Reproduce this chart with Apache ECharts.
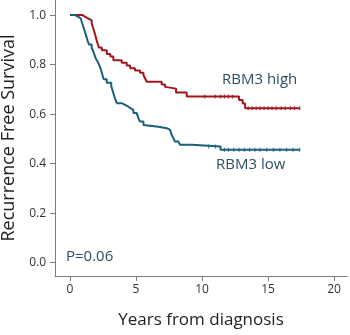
<!DOCTYPE html>
<html>
<head>
<meta charset="utf-8">
<script src="https://cdn.jsdelivr.net/npm/echarts@6/dist/echarts.min.js"></script>
<style>
  html, body { margin: 0; padding: 0; background: #fff; }
  #chart { width: 350px; height: 335px; }
</style>
</head>
<body>
<div id="chart"></div>
<script>
// Kaplan-Meier step curves: [years, survival] at each drop
const highCurve = [
  [0, 1.0], [0.95, 0.993], [1.15, 0.986], [1.4, 0.979], [1.64, 0.967], [1.72, 0.953],
  [1.8, 0.939], [1.88, 0.925], [1.95, 0.911], [2.02, 0.897], [2.1, 0.883], [2.18, 0.869],
  [2.4, 0.858], [2.78, 0.843], [3.05, 0.833], [3.28, 0.818], [3.91, 0.808], [4.29, 0.796],
  [4.55, 0.785], [4.92, 0.776], [5.3, 0.767], [5.56, 0.758], [5.68, 0.745], [5.81, 0.731],
  [6.94, 0.720], [7.2, 0.710], [7.3, 0.703], [8.03, 0.687], [8.84, 0.671], [12.8, 0.657],
  [13.08, 0.643], [13.26, 0.624], [17.4, 0.624]
];
const lowCurve = [
  [0, 1.0], [0.38, 0.993], [0.63, 0.986], [0.81, 0.979], [0.93, 0.965], [1.02, 0.951],
  [1.1, 0.937], [1.18, 0.923], [1.26, 0.909], [1.34, 0.895], [1.44, 0.881], [1.64, 0.867],
  [1.77, 0.853], [1.85, 0.839], [1.95, 0.825], [2.1, 0.811], [2.22, 0.797], [2.32, 0.783],
  [2.4, 0.769], [2.47, 0.755], [2.55, 0.741], [2.78, 0.727], [3.12, 0.713], [3.2, 0.699],
  [3.28, 0.685], [3.36, 0.671], [3.45, 0.657], [3.55, 0.644], [3.91, 0.637], [4.17, 0.630],
  [4.42, 0.623], [4.6, 0.617], [4.8, 0.604], [5.05, 0.597], [5.18, 0.583], [5.3, 0.570],
  [5.56, 0.556], [5.68, 0.549], [6.7, 0.543], [7.32, 0.536], [7.58, 0.529], [7.7, 0.516],
  [7.83, 0.503], [7.95, 0.489], [8.2, 0.482], [8.33, 0.476], [9.22, 0.469], [11.4, 0.456],
  [17.4, 0.456]
];
// Censored observations: [years, survival]
const highCensored = [
  [10.2, 0.671], [11.0, 0.671], [11.4, 0.671], [11.7, 0.671], [12.0, 0.671], [12.3, 0.671],
  [13.5, 0.624], [13.8, 0.624], [14.1, 0.624], [14.4, 0.624], [14.7, 0.624], [15.0, 0.624],
  [15.3, 0.624], [15.6, 0.624], [16.0, 0.624], [16.3, 0.624], [16.7, 0.624], [17.0, 0.624],
  [17.4, 0.624]
];
const lowCensored = [
  [10.5, 0.469], [11.0, 0.469], [11.7, 0.456], [12.0, 0.456], [12.4, 0.456], [12.8, 0.456],
  [13.2, 0.456], [13.6, 0.456], [14.0, 0.456], [14.4, 0.456], [14.9, 0.456], [15.4, 0.456],
  [15.9, 0.456], [16.4, 0.456], [16.9, 0.456], [17.4, 0.456]
];
const xTicks = [0, 5, 10, 15, 20];
const yTicks = [0, 0.2, 0.4, 0.6, 0.8, 1.0];

const RED = '#a0161f';
const BLUE = '#1c5f7d';
const TEXT = '#2c4f60';
const AXIS = '#7d7d7d';
const FONT = '"Open Sans", "Noto Sans", sans-serif';
const X_RANGE = { min: -1.14, max: 20.98 };
const Y_RANGE = { min: -0.054, max: 1.061 };
const GRID = { left: 55, right: 3, top: 0, bottom: 59, outerBoundsMode: 'none' };
const TICK_MARK = 'path://M0,0L1,0L1,4L0,4Z';

const chart = echarts.init(document.getElementById('chart'));

chart.setOption({
  animation: false,
  // grid 0 holds the curves, labels and titles; grid 1 draws the axis frame and ticks
  grid: [Object.assign({}, GRID), Object.assign({}, GRID)],
  xAxis: [
    {
      gridIndex: 0, type: 'value', min: X_RANGE.min, max: X_RANGE.max,
      splitLine: { show: false },
      axisLine: { show: false },
      axisTick: { show: false },
      axisLabel: { customValues: xTicks, margin: 8, color: '#333', fontSize: 12, fontFamily: FONT },
      name: 'Years from diagnosis',
      nameLocation: 'middle',
      nameGap: 36,
      nameTextStyle: { color: '#222', fontSize: 17, fontFamily: FONT }
    },
    {
      gridIndex: 1, type: 'value', min: X_RANGE.min, max: X_RANGE.max,
      splitLine: { show: false },
      axisLine: { show: true, onZero: false, lineStyle: { color: AXIS, width: 1 } },
      axisTick: { show: true, length: 5, customValues: xTicks, lineStyle: { color: AXIS, width: 1 } },
      axisLabel: { show: false }
    }
  ],
  yAxis: [
    {
      gridIndex: 0, type: 'value', min: Y_RANGE.min, max: Y_RANGE.max,
      splitLine: { show: false },
      axisLine: { show: false },
      axisTick: { show: false },
      axisLabel: {
        customValues: yTicks, margin: 9, color: '#333', fontSize: 12, fontFamily: FONT,
        formatter: v => v.toFixed(1)
      },
      name: 'Recurrence Free Survival',
      nameLocation: 'middle',
      nameGap: 31,
      nameTextStyle: { color: '#222', fontSize: 18, fontFamily: FONT }
    },
    {
      gridIndex: 1, type: 'value', min: Y_RANGE.min, max: Y_RANGE.max,
      splitLine: { show: false },
      axisLine: { show: true, onZero: false, lineStyle: { color: AXIS, width: 1 } },
      axisTick: { show: true, length: 5, customValues: yTicks, lineStyle: { color: AXIS, width: 1 } },
      axisLabel: { show: false }
    }
  ],
  series: [
    {
      type: 'line', step: 'end', data: highCurve, xAxisIndex: 0, yAxisIndex: 0,
      showSymbol: false, lineStyle: { color: RED, width: 2 }
    },
    {
      type: 'line', step: 'end', data: lowCurve, xAxisIndex: 0, yAxisIndex: 0,
      showSymbol: false, lineStyle: { color: BLUE, width: 2 }
    },
    {
      type: 'scatter', data: highCensored, xAxisIndex: 0, yAxisIndex: 0,
      symbol: TICK_MARK, symbolSize: [1.2, 4], itemStyle: { color: RED }
    },
    {
      type: 'scatter', data: lowCensored, xAxisIndex: 0, yAxisIndex: 0,
      symbol: TICK_MARK, symbolSize: [1.2, 4], itemStyle: { color: BLUE }
    }
  ],
  graphic: [
    { type: 'text', left: 222, top: 72, style: { text: 'RBM3 high', fill: TEXT, fontSize: 15, fontFamily: FONT } },
    { type: 'text', left: 216, top: 157, style: { text: 'RBM3 low', fill: TEXT, fontSize: 15, fontFamily: FONT } },
    { type: 'text', left: 66, top: 249, style: { text: 'P=0.06', fill: TEXT, fontSize: 15, fontFamily: FONT } }
  ]
});
</script>
</body>
</html>
